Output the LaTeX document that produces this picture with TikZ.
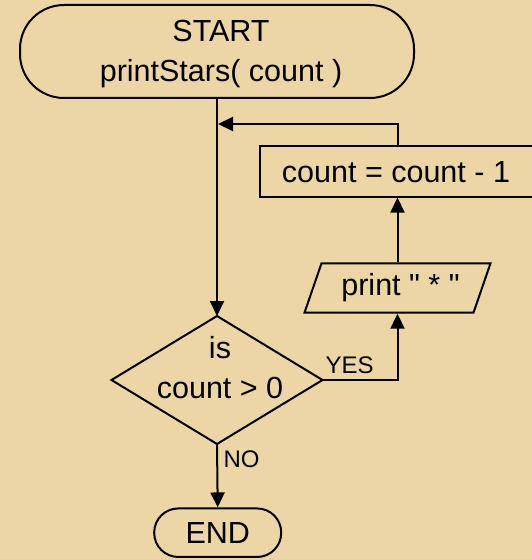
\documentclass[tikz,border=0pt]{standalone}
\usepackage{fontspec}
\setmainfont{Liberation Sans}[Ligatures=TeXOff]
\usetikzlibrary{arrows.meta,calc}
\definecolor{paper}{RGB}{237,214,165}
\begin{document}
\begin{tikzpicture}[x=1pt,y=-1pt, line width=2pt,
  every node/.style={font=\fontsize{30.5}{40}\selectfont, text=black},
  term/.style={draw, rectangle, inner sep=0pt},
  frame/.style={draw=none, rectangle, inner sep=0pt},
  arr/.style={-{Triangle[length=15pt,width=14pt]}},
  lbl/.style={font=\fontsize{24}{28}\selectfont, inner sep=0pt}]

\useasboundingbox (0,0) rectangle (532,559);
\clip (0,0) rectangle (532,559);
\fill[paper] (0,0) rectangle (532,559);

% start terminal
\node[term, rounded corners=44pt, minimum width=394pt, minimum height=93pt]
  (start) at (217,51.5) {};
\node[align=center, inner sep=0pt] (starttxt) at (221,53.8) {START\\printStars( count )};

% decrement box (runs past the right edge)
\node[term, minimum width=286pt, minimum height=51pt] (cnt) at (403,171) {};
\node[inner sep=0pt] (cnttxt) at (396,172.5) {count = count - 1};

% print parallelogram
\node[frame, minimum width=170pt, minimum height=49.4pt] (prt) at (397.5,288) {};
\draw ($(prt.center)+(-76,-24.7)$) -- ($(prt.center)+(93,-24.7)$)
   -- ($(prt.center)+(76,24.7)$) -- ($(prt.center)+(-93,24.7)$) -- cycle;
\node[inner sep=0pt] (prttxt) at (400.5,288) {print " * "};

% decision diamond
\node[frame, minimum width=209pt, minimum height=126pt] (dec) at (217,380) {};
\draw (dec.north) -- (dec.east) -- (dec.south) -- (dec.west) -- cycle;
\node[align=center, inner sep=0pt] (dectxt) at (220,367.5) {is\\count > 0};

% end terminal
\node[term, rounded corners=24pt, minimum width=127pt, minimum height=48.5pt]
  (stop) at (217.7,532.7) {END};

% connectors
\coordinate (back) at (218,124);
\draw[arr] (start.south) -- (dec.north);
\draw[arr] (dec.east) -- (dec.east -| prt.south) -- (prt.south);
\draw[arr] (prt.north) -- (prt.north |- cnt.south);
\draw[arr] (cnt.north -| prt.north) -- (back -| prt.north) -- (back);
\draw[arr] (dec.south) -- (stop.north);

% labels
\node[lbl, anchor=base west] (yes) at (324.5,373.5) {YES};
\node[lbl, anchor=base west] (no) at (222.5,467.3) {NO};
\end{tikzpicture}
\end{document}
